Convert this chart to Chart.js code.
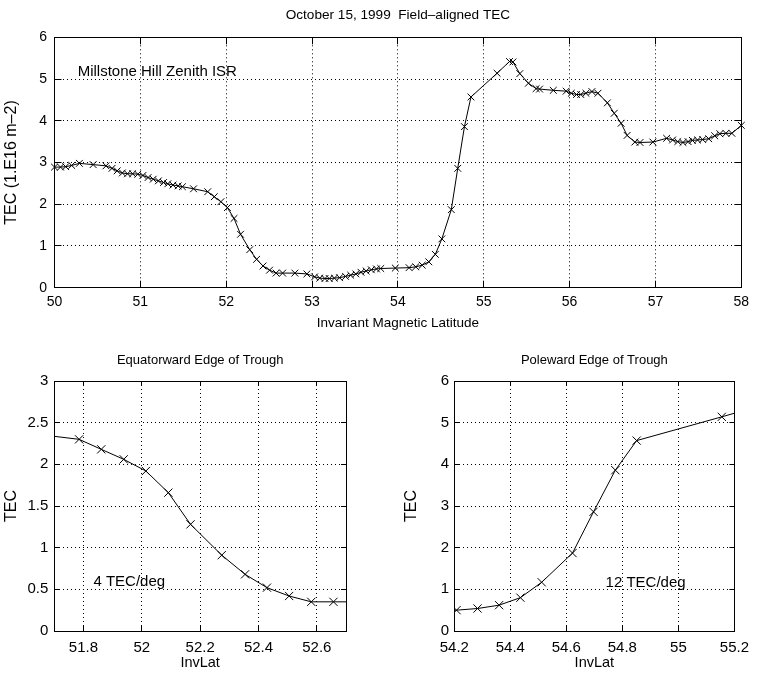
<!DOCTYPE html>
<html>
<head>
<meta charset="utf-8">
<title>Field-aligned TEC</title>
<script src="https://cdn.jsdelivr.net/npm/chart.js@4.4.1/dist/chart.umd.min.js"></script>
<style>
  body { margin: 0; background: #fff; }
  #wrap { position: relative; width: 762px; height: 673px; }
  #wrap canvas { position: absolute; }
</style>
</head>
<body>
<div id="wrap">
  <canvas id="mainChart" width="762" height="340" style="left:0;top:0"></canvas>
  <canvas id="eqChart" width="381" height="333" style="left:0;top:340px"></canvas>
  <canvas id="poleChart" width="381" height="333" style="left:381px;top:340px"></canvas>
</div>
<script>
// Invariant latitude (deg) and field-aligned TEC (1e16 m^-2)
const invLat = [
  50.00, 50.07, 50.13, 50.20, 50.29, 50.45, 50.60, 50.67, 50.73, 50.79,
  50.85, 50.91, 50.97, 51.03, 51.09, 51.15, 51.21, 51.27, 51.32, 51.38,
  51.44, 51.49, 51.62, 51.785, 51.861, 51.938, 52.014, 52.091, 52.167, 52.274,
  52.354, 52.429, 52.505, 52.581, 52.657, 52.80, 52.94, 53.03, 53.09, 53.15,
  53.20, 53.26, 53.32, 53.39, 53.45, 53.51, 53.57, 53.63, 53.69, 53.75,
  53.80, 53.97, 54.13, 54.208, 54.283, 54.36, 54.436, 54.512, 54.622, 54.697,
  54.775, 54.851, 55.155, 55.30, 55.34, 55.42, 55.52, 55.61, 55.65, 55.81,
  55.96, 56.02, 56.08, 56.13, 56.19, 56.26, 56.33, 56.44, 56.52, 56.60,
  56.67, 56.76, 56.82, 56.97, 57.13, 57.20, 57.26, 57.32, 57.38, 57.43,
  57.49, 57.55, 57.62, 57.69, 57.75, 57.82, 57.89, 58.00
];
const tec = [
  2.89, 2.89, 2.90, 2.93, 2.98, 2.95, 2.92, 2.86, 2.80, 2.75,
  2.73, 2.73, 2.72, 2.69, 2.64, 2.60, 2.56, 2.52, 2.49, 2.46,
  2.44, 2.42, 2.37, 2.30, 2.18, 2.06, 1.92, 1.66, 1.28, 0.91,
  0.68, 0.52, 0.42, 0.35, 0.35, 0.35, 0.33, 0.26, 0.23, 0.22,
  0.22, 0.23, 0.24, 0.27, 0.30, 0.33, 0.37, 0.40, 0.43, 0.45,
  0.46, 0.47, 0.48, 0.50, 0.54, 0.62, 0.80, 1.17, 1.87, 2.86,
  3.86, 4.57, 5.14, 5.42, 5.41, 5.13, 4.90, 4.77, 4.76, 4.73,
  4.71, 4.66, 4.63, 4.63, 4.66, 4.70, 4.66, 4.43, 4.18, 3.94,
  3.65, 3.49, 3.48, 3.49, 3.58, 3.54, 3.50, 3.48, 3.50, 3.53,
  3.54, 3.55, 3.57, 3.64, 3.69, 3.70, 3.70, 3.89
];

const mainLatTicks = [50, 51, 52, 53, 54, 55, 56, 57, 58];
const mainTecTicks = [0, 1, 2, 3, 4, 5, 6];
const eqLatTicks = [51.8, 52, 52.2, 52.4, 52.6];
const eqTecTicks = [0, 0.5, 1, 1.5, 2, 2.5, 3];
const poleLatTicks = [54.2, 54.4, 54.6, 54.8, 55, 55.2];
const poleTecTicks = [0, 1, 2, 3, 4, 5, 6];

const FONT = '"Liberation Sans", Arial, Helvetica, sans-serif';
const points = invLat.map((x, i) => ({ x: x, y: tec[i] }));

// text placed in data coordinates (like matlab's text())
const notesPlugin = {
  id: 'notes',
  afterDatasetsDraw(chart, args, opts) {
    if (!opts || !opts.text) return;
    const { ctx, scales } = chart;
    ctx.save();
    ctx.font = opts.size + 'px ' + FONT;
    ctx.fillStyle = '#000';
    ctx.textAlign = 'left';
    ctx.textBaseline = 'middle';
    ctx.fillText(opts.text, scales.x.getPixelForValue(opts.x), scales.y.getPixelForValue(opts.y));
    ctx.restore();
  }
};

function fixTicks(values) {
  return scale => { scale.ticks = values.map(v => ({ value: v })); };
}
// matlab style labels: 52 not 52.0, 3 not 3.0
const plainLabel = v => String(+Number(v).toFixed(3));

function makePanel(id, p) {
  const tickFont = { family: FONT, size: p.tickSize };
  const grid = { color: '#000', lineWidth: 1, tickLength: -p.tick, tickColor: '#000', tickWidth: 1 };
  const edge = { display: true, color: '#000', width: 1, dash: [1, 3] };
  const mirror = (pos, ticks, min, max, fit) => ({
    type: 'linear', position: pos, min: min, max: max,
    afterBuildTicks: fixTicks(ticks), afterFit: fit,
    ticks: { display: false },
    grid: { drawOnChartArea: false, tickLength: -p.tick, tickColor: '#000', tickWidth: 1 },
    border: { display: true, color: '#000', width: 1 }
  });

  return new Chart(document.getElementById(id), {
    type: 'line',
    data: {
      datasets: [{
        data: points,
        borderColor: '#000',
        borderWidth: 1,
        tension: 0,
        pointStyle: 'crossRot',
        pointRadius: p.marker,
        pointBorderColor: '#000',
        pointBorderWidth: 1,
        pointBackgroundColor: 'transparent',
        clip: p.clip
      }]
    },
    plugins: [notesPlugin],
    options: {
      responsive: false,
      animation: false,
      events: [],
      layout: { padding: { left: 0, top: 0, right: p.padRight, bottom: 0 }, autoPadding: false },
      plugins: {
        legend: { display: false },
        tooltip: { enabled: false },
        title: {
          display: true, text: p.title, fullSize: false, color: '#000',
          font: { family: FONT, size: p.titleSize, weight: 'normal' },
          padding: p.titlePad
        },
        notes: p.note
      },
      scales: {
        x: {
          type: 'linear', position: 'bottom', min: p.xMin, max: p.xMax,
          afterBuildTicks: fixTicks(p.xTicks),
          afterFit: s => { s.height = p.xAxisH; },
          ticks: { font: tickFont, color: '#000', padding: p.xTickPad, autoSkip: false, maxRotation: 0, callback: plainLabel },
          grid: grid,
          border: edge,
          title: { display: true, text: p.xTitle, color: '#000', font: { family: FONT, size: p.xTitleSize }, padding: { top: 0, bottom: p.xTitlePad } }
        },
        y: {
          type: 'linear', position: 'left', min: p.yMin, max: p.yMax,
          afterBuildTicks: fixTicks(p.yTicks),
          afterFit: s => { s.width = p.yAxisW; },
          ticks: { font: tickFont, color: '#000', padding: p.yTickPad, autoSkip: false, callback: plainLabel },
          grid: grid,
          border: edge,
          title: { display: true, text: p.yTitle, color: '#000', font: { family: FONT, size: 16 }, padding: { top: p.yTitlePad, bottom: 0 } }
        },
        x2: Object.assign(mirror('top', p.xTicks, p.xMin, p.xMax, s => { s.height = 0; }), { axis: 'x' }),
        y2: Object.assign(mirror('right', p.yTicks, p.yMin, p.yMax, s => { s.width = 0; }), { axis: 'y' })
      }
    }
  });
}

makePanel('mainChart', {
  title: 'October 15, 1999  Field\u2013aligned TEC',
  xTitle: 'Invariant Magnetic Latitude',
  yTitle: 'TEC (1.E16 m\u20132)',
  xMin: 50, xMax: 58, yMin: 0, yMax: 6,
  xTicks: mainLatTicks, yTicks: mainTecTicks,
  padRight: 15.5, yAxisW: 54.5, xAxisH: 52.3,
  titleSize: 13.6, titlePad: { top: 7, bottom: 14 },
  tick: 7, tickSize: 14, xTickPad: 12.9, yTickPad: 14.5,
  xTitleSize: 13.5, xTitlePad: 8.9, yTitlePad: 2.4,
  marker: 4.8, clip: false,
  note: { text: 'Millstone Hill Zenith ISR', x: 50.27, y: 5.18, size: 15 }
});

makePanel('eqChart', {
  title: 'Equatorward Edge of Trough',
  xTitle: 'InvLat',
  yTitle: 'TEC',
  xMin: 51.7, xMax: 52.7, yMin: 0, yMax: 3,
  xTicks: eqLatTicks, yTicks: eqTecTicks,
  padRight: 35, yAxisW: 54.3, xAxisH: 42,
  titleSize: 13, titlePad: { top: 12.2, bottom: 13.2 },
  tick: 5, tickSize: 15, xTickPad: 13, yTickPad: 11,
  xTitleSize: 14.5, xTitlePad: 1.3, yTitlePad: 2.4,
  marker: 5.8, clip: undefined,
  note: { text: '4 TEC/deg', x: 51.834, y: 0.59, size: 15 }
});

makePanel('poleChart', {
  title: 'Poleward Edge of Trough',
  xTitle: 'InvLat',
  yTitle: 'TEC',
  xMin: 54.2, xMax: 55.2, yMin: 0, yMax: 6,
  xTicks: poleLatTicks, yTicks: poleTecTicks,
  padRight: 16, yAxisW: 73.3, xAxisH: 42,
  titleSize: 13, titlePad: { top: 12.2, bottom: 13.2 },
  tick: 5, tickSize: 15, xTickPad: 13, yTickPad: 10.3,
  xTitleSize: 14.5, xTitlePad: 1.3, yTitlePad: 21.4,
  marker: 5.8, clip: undefined,
  note: { text: '12 TEC/deg', x: 54.74, y: 1.145, size: 15 }
});
</script>
</body>
</html>
